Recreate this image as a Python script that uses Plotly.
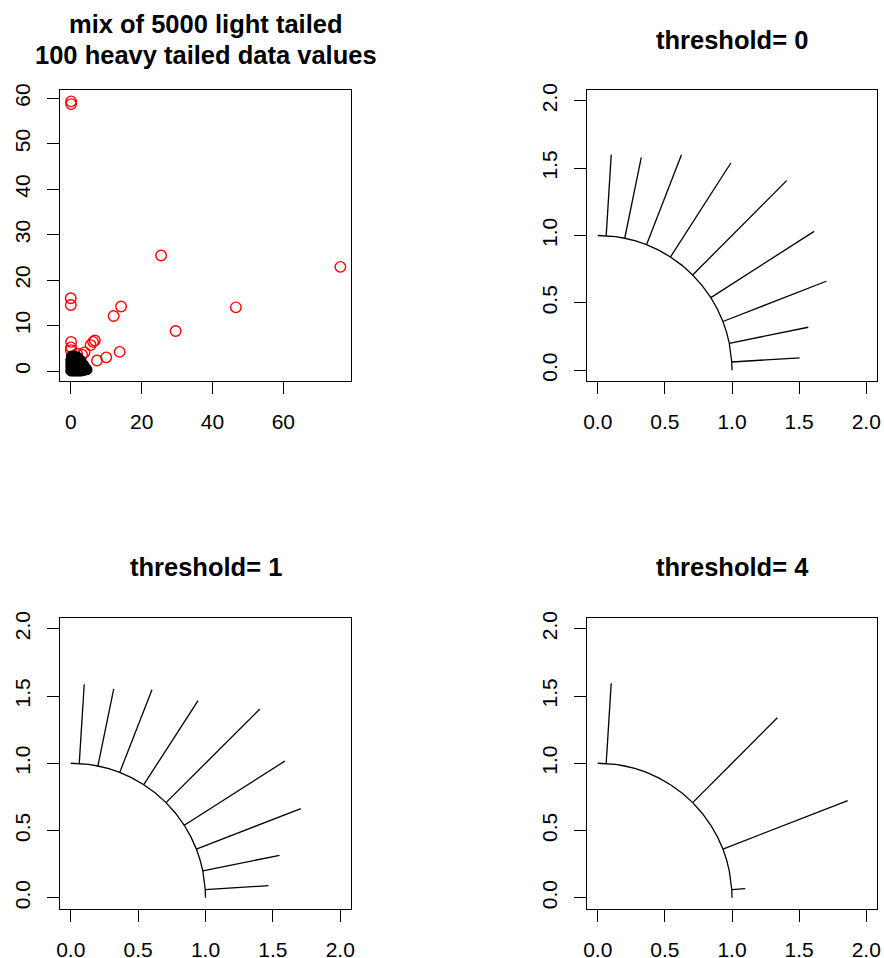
import math
import plotly.graph_objects as go

W, H = 884, 958

# ---------------- data ----------------
# panel 1: heavy tailed (red) and light tailed (black) values
heavy_x = [0.1, 0.1, 25.5, 76.1, 0.0, 0.0, 14.2, 12.1, 46.6, 29.6, 0.1, 0.1,
           6.8, 6.3, 5.6, 13.8, 10.0, 7.4, 3.9, 3.2, 0.0, 2.0, 1.0, 0.5, 1.5,
           2.5, 0.3, 0.8, 4.3, 1.8]
heavy_y = [59.3, 58.7, 25.4, 22.9, 16.0, 14.5, 14.2, 12.1, 14.0, 8.8, 6.4, 5.2,
           6.7, 6.4, 5.7, 4.2, 3.0, 2.3, 4.1, 3.6, 4.6, 1.5, 3.0, 0.5, 2.2,
           1.0, 1.8, 0.2, 0.4, 3.8]

light_x = [0.0, 0.5, 1.0, 1.5, 2.0, 2.5, 3.0, 3.5, 4.0, 4.4,
           0.0, 0.8, 1.6, 2.4, 3.2, 3.9,
           0.0, 0.8, 1.6, 2.4, 3.2, 3.6,
           0.0, 0.8, 1.6, 2.4, 2.9,
           0.2, 0.9, 1.6, 2.2, 4.6]
light_y = [0.0, 0.0, 0.0, 0.0, 0.0, 0.0, 0.0, 0.1, 0.2, 0.4,
           0.8, 0.8, 0.8, 0.8, 0.8, 0.9,
           1.6, 1.6, 1.6, 1.6, 1.6, 1.4,
           2.4, 2.4, 2.4, 2.4, 2.3,
           3.3, 3.3, 3.1, 2.9, 0.3]

# panels 2-4: direction angles (degrees) and outer radii of the segments
angles_all = [86.4, 78.4, 68.7, 57.2, 45.0, 32.6, 21.2, 11.5, 3.5]
radii_t0 = [1.603, 1.613, 1.717, 1.830, 1.990, 1.913, 1.826, 1.600, 1.506]
radii_t1 = [1.591, 1.586, 1.659, 1.744, 1.985, 1.886, 1.832, 1.581, 1.470]
angles_t4 = [86.4, 45.0, 21.2, 3.5]
radii_t4 = [1.598, 1.892, 1.997, 1.100]

# vertices of the unit quarter-circle polyline (degrees)
arc_angles = [90, 86.4, 82.4, 78.4, 73.6, 68.7, 63.0, 57.2, 51.1, 45.0, 38.8,
              32.6, 26.9, 21.2, 16.3, 11.5, 7.5, 3.5, 0]

titles = ["threshold= 0", "threshold= 1", "threshold= 4"]

# ---------------- layout helpers ----------------
def xd(px0, px1):
    return [px0 / W, px1 / W]

def yd(py0, py1):  # py0 top, py1 bottom in pixels
    return [1 - py1 / H, 1 - py0 / H]

panels = {
    1: (xd(60, 351), yd(90, 381)),
    2: (xd(587, 877), yd(90, 381)),
    3: (xd(60, 351), yd(618, 908.5)),
    4: (xd(587, 877), yd(618, 908.5)),
}

FONT = "Liberation Sans, Arial, sans-serif"
TICKFONT = dict(family=FONT, size=21, color="black")

fig = go.Figure()

# panel 1
fig.add_trace(go.Scatter(x=heavy_x, y=heavy_y, mode="markers", xaxis="x", yaxis="y",
                         marker=dict(symbol="circle-open", size=10.5, color="red",
                                     line=dict(width=1.4, color="red")),
                         showlegend=False, hoverinfo="skip"))
fig.add_trace(go.Scatter(x=light_x, y=light_y, mode="markers", xaxis="x", yaxis="y",
                         marker=dict(symbol="circle", size=10, color="black",
                                     line=dict(width=1, color="black")),
                         showlegend=False, hoverinfo="skip"))

def add_star(ax_id, angles, radii):
    xa = "x" + str(ax_id)
    ya = "y" + str(ax_id)
    ax_x = [math.cos(math.radians(a)) for a in arc_angles]
    ax_y = [math.sin(math.radians(a)) for a in arc_angles]
    fig.add_trace(go.Scatter(x=ax_x, y=ax_y, mode="lines", xaxis=xa, yaxis=ya,
                             line=dict(color="black", width=1.3),
                             showlegend=False, hoverinfo="skip"))
    sx, sy = [], []
    for a, r in zip(angles, radii):
        c, s = math.cos(math.radians(a)), math.sin(math.radians(a))
        sx += [c, r * c, None]
        sy += [s, r * s, None]
    fig.add_trace(go.Scatter(x=sx, y=sy, mode="lines", xaxis=xa, yaxis=ya,
                             line=dict(color="black", width=1.3),
                             showlegend=False, hoverinfo="skip"))

add_star(2, angles_all, radii_t0)
add_star(3, angles_all, radii_t1)
add_star(4, angles_t4, radii_t4)

def axis_common():
    return dict(showline=True, mirror=True, linecolor="black", linewidth=1.2,
                ticks="outside", ticklen=12, tickwidth=1.2, tickcolor="black",
                showgrid=False, zeroline=False, tickfont=TICKFONT, fixedrange=True,
                automargin=False)

layout = dict(width=W, height=H, margin=dict(l=0, r=0, t=0, b=0, pad=0),
              template="none",
              paper_bgcolor="white", plot_bgcolor="white", showlegend=False)

for i in range(1, 5):
    xdom, ydom = panels[i]
    xk = "xaxis" if i == 1 else "xaxis" + str(i)
    yk = "yaxis" if i == 1 else "yaxis" + str(i)
    xa = axis_common()
    ya = axis_common()
    xa.update(domain=xdom, anchor="y" if i == 1 else "y" + str(i), ticklabelstandoff=10)
    ya.update(domain=ydom, anchor="x" if i == 1 else "x" + str(i), tickangle=-90,
              ticklabelstandoff=9)
    if i == 1:
        xa.update(range=[-3.04, 79.1], tickvals=[0, 20, 40, 60])
        ya.update(range=[-2.2, 61.8], tickvals=[0, 10, 20, 30, 40, 50, 60])
    else:
        xa.update(range=[-0.08, 2.08], tickvals=[0, 0.5, 1, 1.5, 2], tickformat=".1f")
        ya.update(range=[-0.08, 2.08], tickvals=[0, 0.5, 1, 1.5, 2], tickformat=".1f")
    layout[xk] = xa
    layout[yk] = ya

TITLEFONT = dict(family=FONT, size=25.5, color="black", weight="bold")

def title_ann(text, cx, cy):
    return dict(text=text, x=cx / W, y=1 - cy / H, xref="paper", yref="paper",
                xanchor="center", yanchor="middle", showarrow=False, font=TITLEFONT)

layout["annotations"] = [
    title_ann("mix of 5000 light tailed", 205.5, 24),
    title_ann("100 heavy tailed data values", 205.5, 55),
    title_ann(titles[0], 732, 40),
    title_ann(titles[1], 205.5, 567),
    title_ann(titles[2], 732, 567),
]

fig.update_layout(**layout)
fig.write_html("out.html", config={"displayModeBar": False},
               post_script="document.body.style.margin='0';document.body.style.overflow='hidden';")
